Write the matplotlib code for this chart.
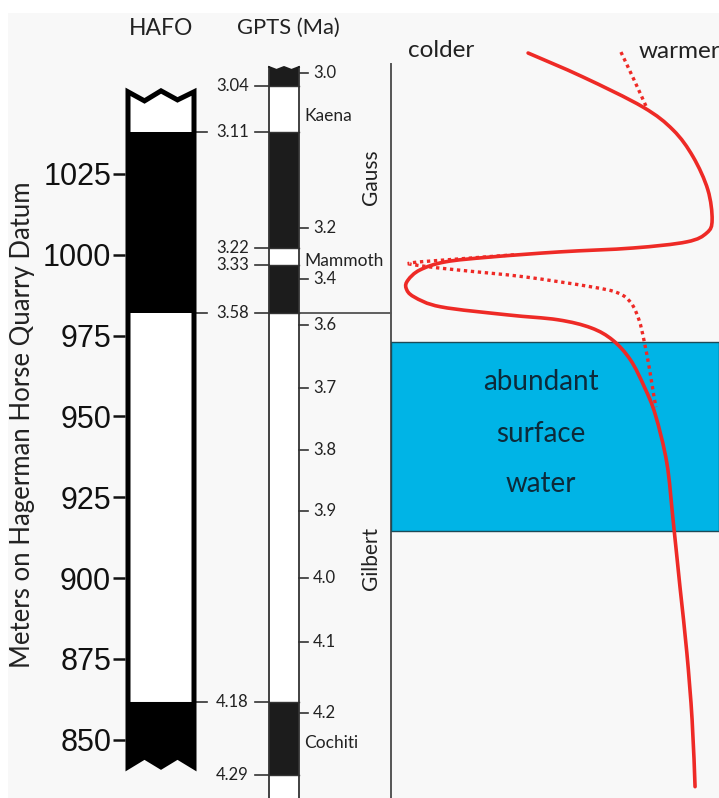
import matplotlib
matplotlib.use("Agg")
import matplotlib.pyplot as plt
from matplotlib.patches import Rectangle, Polygon, PathPatch
from matplotlib.path import Path
import numpy as np

# depth scale (m on Hagerman Horse Quarry Datum)
depth_ticks = [1025, 1000, 975, 950, 925, 900, 875, 850]

# HAFO polarity column: (top, bottom, fill)
hafo_top = [1049.0, 1038.0, 982.0, 861.7]
hafo_bot = [1038.0, 982.0, 861.7, 843.0]
hafo_fill = ["white", "black", "white", "black"]

# GPTS column: ages of boundaries and their depth levels
gpts_top = [1058.1, 1052.2, 1038.0, 1002.1, 996.9, 982.0, 861.7, 839.1]
gpts_bot = [1052.2, 1038.0, 1002.1, 996.9, 982.0, 861.7, 839.1, 832.0]
gpts_fill = ["dark", "white", "dark", "white", "dark", "white", "dark", "white"]

bound_age = ["3.04", "3.11", "3.22", "3.33", "3.58", "4.18", "4.29"]
bound_m = [1052.2, 1038.0, 1002.1, 996.9, 982.0, 861.7, 839.1]
bound_to_hafo = [False, True, False, False, True, True, False]

age_ticks = ["3.0", "3.2", "3.4", "3.6", "3.7", "3.8", "3.9", "4.0", "4.1", "4.2"]
age_tick_m = [1056.2, 1008.3, 992.5, 978.3, 958.8, 939.7, 920.8, 900.1, 880.3, 858.4]

subchrons = ["Kaena", "Mammoth", "Cochiti"]
subchron_m = [1043.0, 998.0, 849.0]
chrons = ["Gauss", "Gilbert"]
chron_m = [1024.0, 906.0]

# temperature curve (relative warmth 0 = colder, 100 = warmer)
temp_x = [41.8, 58.5, 76.8, 86.0, 92.1, 96.6, 97.9, 96.3, 90.2, 73.8, 51.5, 30.2,
          16.5, 8.8, 5.2, 4.6, 7.0, 15.2, 35.7, 50.9, 61.0, 67.6, 73.0, 77.3,
          80.6, 84.1, 86.0, 88.1, 90.2, 91.8, 92.7]
temp_m = [1062.4, 1055.0, 1045.7, 1038.6, 1030.3, 1020.1, 1010.8, 1006.8, 1004.0,
          1002.1, 1000.9, 999.3, 997.8, 995.3, 992.2, 989.7, 987.0, 983.9, 981.4,
          979.9, 977.4, 973.6, 967.5, 959.0, 950.5, 935.6, 918.0, 897.3,
          876.9, 856.2, 835.5]

alt1_x = [70.1, 74.1, 78.0]
alt1_m = [1062.7, 1054.1, 1045.4]
alt2_x = [37.5, 20.4, 6.1, 9.1, 20.4, 40.5, 61.0, 69.2, 73.2, 75.6, 77.1, 78.7, 80.2, 80.8]
alt2_m = [1000.0, 998.7, 997.5, 996.6, 995.3, 993.2, 990.1, 988.2, 985.1, 979.9,
          973.7, 965.3, 956.0, 952.9]

water_top = 973.1
water_bot = 914.6

W, H = 719, 798
YLIM = (832.0, 1078.8)
RED = "#ee2a26"
FONT = "Lato"
TXT = "#222222"


def smooth_path(xs, ys):
    # Catmull-Rom through the read points, drawn as cubic Bezier segments
    p = np.column_stack([xs, ys]).astype(float)
    p = np.vstack([p[0], p, p[-1]])
    verts = [tuple(p[1])]
    codes = [Path.MOVETO]
    for i in range(1, len(p) - 2):
        c1 = p[i] + (p[i + 1] - p[i - 1]) / 6
        c2 = p[i + 1] - (p[i + 2] - p[i]) / 6
        verts += [tuple(c1), tuple(c2), tuple(p[i + 1])]
        codes += [Path.CURVE4] * 3
    return Path(verts, codes)


fig = plt.figure(figsize=(W / 100, H / 100), dpi=100, facecolor="white")
fig.patches.append(Rectangle((8 / W, 0), 1, 1 - 13 / H, transform=fig.transFigure,
                             facecolor="#f8f8f8", edgecolor="none", zorder=-10))

ax = fig.add_axes([0, 0, 1, 1])
ax.set_xlim(0, W)
ax.set_ylim(*YLIM)
ax.axis("off")

# HAFO column
hx0, hx1 = 128, 194
zig_x = np.linspace(hx0, hx1, 5)
top_zig = [1050.4, 1047.6, 1050.7, 1047.9, 1050.4]
bot_zig = [841.6, 844.7, 841.6, 844.7, 841.6]
for t, b, f in zip(hafo_top, hafo_bot, hafo_fill):
    if t == hafo_top[0]:
        pts = [(hx0, b)] + list(zip(zig_x, top_zig)) + [(hx1, b)]
    elif b == hafo_bot[-1]:
        pts = [(hx0, t), (hx1, t)] + list(zip(zig_x[::-1], bot_zig[::-1]))
    else:
        pts = [(hx0, t), (hx1, t), (hx1, b), (hx0, b)]
    ax.add_patch(Polygon(pts, closed=True, facecolor=f, edgecolor="none", zorder=2))
outline = list(zip(zig_x, top_zig)) + [(hx1, bot_zig[-1])] + list(zip(zig_x[::-1], bot_zig[::-1])) + [(hx0, top_zig[0])]
ax.add_patch(Polygon(outline, closed=True, facecolor="none", edgecolor="black",
                     lw=3.6, joinstyle="miter", zorder=3))

# depth axis on the left of HAFO column
axd = fig.add_axes([hx0 / W - 0.004, 0, 0.001, 1])
axd.set_ylim(*YLIM)
axd.patch.set_visible(False)
for s in axd.spines.values():
    s.set_visible(False)
axd.set_xticks([])
axd.set_yticks(depth_ticks)
axd.set_yticklabels([str(v) for v in depth_ticks], fontsize=22, family="Liberation Sans", color="#111111")
axd.tick_params(axis="y", length=8.5, width=1.8, pad=1.5, color="#111111")
ax.text(23, 947.5, "Meters on Hagerman Horse Quarry Datum", rotation=90, ha="center",
        va="center", fontsize=18.5, family=FONT, color=TXT)

# GPTS column
gx0, gx1 = 269, 299
gz_x = np.linspace(gx0, gx1, 5)
gz_y = [1058.1, 1057.2, 1058.1, 1057.2, 1058.1]
for t, b, f in zip(gpts_top, gpts_bot, gpts_fill):
    c = "#1c1c1c" if f == "dark" else "white"
    if t == gpts_top[0]:
        pts = [(gx0, b)] + list(zip(gz_x, gz_y)) + [(gx1, b)]
    else:
        pts = [(gx0, t), (gx1, t), (gx1, b), (gx0, b)]
    ax.add_patch(Polygon(pts, closed=True, facecolor=c, edgecolor="none", zorder=2))
ax.plot([gx0, gx0], [YLIM[0], gz_y[0]], color="#333333", lw=1.3, zorder=3)
ax.plot([gx1, gx1], [YLIM[0], gz_y[-1]], color="#333333", lw=1.3, zorder=3)
ax.plot(gz_x, gz_y, color="#1c1c1c", lw=1.3, zorder=3)
for m in gpts_top[1:]:
    ax.plot([gx0, gx1], [m, m], color="#333333", lw=1.0, zorder=3)

for lab, m, toh in zip(bound_age, bound_m, bound_to_hafo):
    ax.text(249, m, lab, ha="right", va="center", fontsize=12, family=FONT, color=TXT)
    ax.plot([255, gx0], [m, m], color="#333333", lw=1.2)
    if toh:
        ax.plot([hx1 + 2, 207], [m, m], color="#333333", lw=1.2)
for lab, m in zip(age_ticks, age_tick_m):
    ax.plot([gx1, 308], [m, m], color="#333333", lw=1.2)
    ax.text(313, m, lab, ha="left", va="center", fontsize=12, family=FONT, color=TXT)
for lab, m in zip(subchrons, subchron_m):
    ax.text(304, m, lab, ha="left", va="center", fontsize=12.5, family=FONT, color=TXT)
for lab, m in zip(chrons, chron_m):
    ax.text(371, m, lab, rotation=90, ha="center", va="center", fontsize=15, family=FONT, color=TXT)

# chron boundary and right panel frame
ax.plot([gx1, 391], [982.0, 982.0], color="#444444", lw=1.2)
ax.plot([391, 391], [YLIM[0], 1059.0], color="#555555", lw=1.4, zorder=4)

ax.text(161, 1070.1, "HAFO", ha="center", va="center", fontsize=16.5, family=FONT, color=TXT)
ax.text(288, 1070.1, "GPTS (Ma)", ha="center", va="center", fontsize=15.8, family=FONT, color=TXT)

# temperature panel
axt = fig.add_axes([391 / W, 0, 328 / W, 1])
axt.set_xlim(0, 100)
axt.set_ylim(*YLIM)
axt.axis("off")
axt.patch.set_visible(False)
axt.axhspan(water_bot, water_top, facecolor="#00b4e6", edgecolor="#1d4a57", lw=1.0, zorder=1)
for lab, m in zip(["abundant", "surface", "water"], [960.6, 944.5, 929.0]):
    axt.text(45.6, m, lab, ha="center", va="center", fontsize=20, family=FONT, color="#0d2a3a", zorder=2)
axt.add_patch(PathPatch(smooth_path(temp_x, temp_m), facecolor="none", edgecolor=RED,
                        lw=2.6, capstyle="round", zorder=5))
axt.add_patch(PathPatch(smooth_path(alt1_x, alt1_m), facecolor="none", edgecolor=RED,
                        lw=2.4, ls=(0, (1, 1.1)), zorder=5))
axt.add_patch(PathPatch(smooth_path(alt2_x, alt2_m), facecolor="none", edgecolor=RED,
                        lw=2.4, ls=(0, (1, 1.1)), zorder=5))
axt.text(15.2, 1063.3, "colder", ha="center", va="center", fontsize=17.5, family=FONT, color=TXT)
axt.text(75.5, 1062.9, "warmer", ha="left", va="center", fontsize=17.5, family=FONT, color=TXT, clip_on=False)

fig.savefig("out.png", dpi=100, facecolor=fig.get_facecolor())
